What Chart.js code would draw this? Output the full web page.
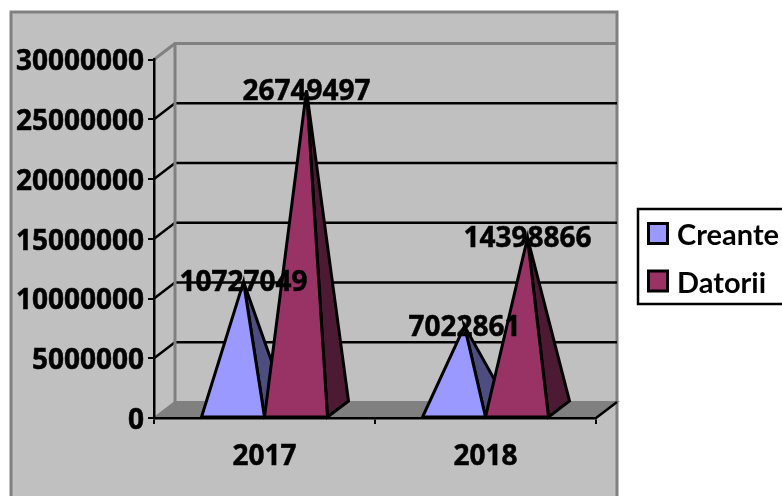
<!DOCTYPE html>
<html>
<head>
<meta charset="utf-8">
<script src="https://cdn.jsdelivr.net/npm/chart.js@4/dist/chart.umd.js"></script>
<style>
    html, body { margin: 0; padding: 0; background: #fff; overflow: hidden; }
    canvas { display: block; }
</style>
</head>
<body>
<canvas id="myChart" width="782" height="496"></canvas>
<script>
const categories = ['2017', '2018'];
const creante = [10727049, 7022861];
const datorii = [26749497, 14398866];

const numberFont = { family: '"Open Sans", sans-serif', weight: 'bold', size: 28 };
const legendFont = { family: 'Lato, sans-serif', weight: 'bold', size: 29 };
const legendPadding = 18.5;
const textStroke = 0.5;
const depthX = 21;
const depthY = 16;

/**
 * 多角形を塗りつぶして黒線で囲みます。
 */
const drawFace = (ctx, points, fill) => {
    ctx.beginPath();
    points.forEach((p, i) => (i === 0 ? ctx.moveTo(p[0], p[1]) : ctx.lineTo(p[0], p[1])));
    ctx.closePath();
    ctx.fillStyle = fill;
    ctx.fill();
    ctx.stroke();
};

const drawLine = (ctx, points, color, width) => {
    ctx.beginPath();
    points.forEach((p, i) => (i === 0 ? ctx.moveTo(p[0], p[1]) : ctx.lineTo(p[0], p[1])));
    ctx.strokeStyle = color;
    ctx.lineWidth = width;
    ctx.stroke();
};

// 背景、奥の壁、床、凡例の枠
const backdropPlugin = {
    id: 'backdrop',
    afterLayout(chart) {
        const legend = chart.legend;
        legend.left = 630;
        legend.right = 782;
        legend.top = 203;
        legend.bottom = 400;
    },
    beforeDraw(chart) {
        const ctx = chart.ctx;
        const area = chart.chartArea;
        const yScale = chart.scales.y;
        const wallRight = area.right + depthX;

        ctx.save();
        ctx.fillStyle = '#c0c0c0';
        ctx.fillRect(11, 12, wallRight - 11, 490);
        ctx.strokeStyle = '#808080';
        ctx.lineWidth = 3;
        ctx.strokeRect(11, 12, wallRight - 11, 490);

        const zeroY = yScale.getPixelForValue(0);
        ctx.lineWidth = 2;
        ctx.strokeStyle = '#808080';
        drawFace(ctx, [
            [area.left, zeroY],
            [area.left + depthX, zeroY - depthY],
            [wallRight, zeroY - depthY],
            [area.right, zeroY],
        ], '#808080');
        drawLine(ctx, [[area.right, zeroY], [wallRight, zeroY - depthY]], '#000', 2.5);

        yScale.ticks.forEach((tick) => {
            if (tick.value === 0) {
                return;
            }
            const y = yScale.getPixelForValue(tick.value);
            const color = tick.value === yScale.max ? '#808080' : '#000';
            const width = tick.value === yScale.max ? 3 : 2.5;
            drawLine(ctx, [[area.left, y], [area.left + depthX, y - depthY], [wallRight, y - depthY]], color, width);
        });
        drawLine(ctx, [
            [area.left + depthX, zeroY - depthY],
            [area.left + depthX, yScale.getPixelForValue(yScale.max) - depthY],
        ], '#808080', 3);

        ctx.fillStyle = '#fff';
        ctx.fillRect(638, 209, 150, 95);
        ctx.strokeStyle = '#000';
        ctx.lineWidth = 2.5;
        ctx.strokeRect(638, 209, 150, 95);
        ctx.restore();
    },
    // 棒の代わりに四角錐を描くので、既定の棒は描きません
    beforeDatasetDraw() {
        return false;
    },
    afterDatasetsDraw(chart) {
        const ctx = chart.ctx;
        const metas = chart.getSortedVisibleDatasetMetas();

        ctx.save();
        ctx.strokeStyle = '#000';
        ctx.lineWidth = 3;
        ctx.lineJoin = 'miter';
        metas.forEach((meta) => {
            const dataset = chart.data.datasets[meta.index];
            meta.data.forEach((bar) => {
                const left = bar.x - bar.width / 2;
                const right = bar.x + bar.width / 2;
                const apex = [bar.x + depthX / 2, bar.y - depthY / 2];
                drawFace(ctx, [[right, bar.base], [right + depthX, bar.base - depthY], apex], dataset.sideColor);
                drawFace(ctx, [[left, bar.base], [right, bar.base], apex], dataset.backgroundColor);
            });
        });

        // 凡例の色見本は参照画像に合わせて幅を広げます
        const legend = chart.legend;
        legend.legendItems.forEach((item, i) => {
            const x = legend.left + legendPadding;
            const y = 223.5 + i * (legendFont.size + legendPadding);
            ctx.fillStyle = item.fillStyle;
            ctx.fillRect(x, y, 19, 20);
            ctx.strokeRect(x, y, 19, 20);
        });

        ctx.fillStyle = '#000';
        ctx.lineWidth = textStroke;
        ctx.font = `${numberFont.weight} ${numberFont.size}px ${numberFont.family}`;
        ctx.textAlign = 'center';
        ctx.textBaseline = 'middle';
        metas.forEach((meta) => {
            const values = chart.data.datasets[meta.index].data;
            meta.data.forEach((bar, i) => {
                const x = bar.x + depthX / 2;
                const y = bar.y - depthY / 2 + 1.5;
                ctx.fillText(String(values[i]), x, y);
                ctx.strokeText(String(values[i]), x, y);
            });
        });
        ctx.restore();
    },
};

const createChart = () => {
    const config = {
        type: 'bar',
        data: {
            labels: categories,
            datasets: [
                { label: 'Creante', data: creante, backgroundColor: '#9999ff', sideColor: '#4d4d80', borderColor: '#000', borderWidth: 2.5 },
                { label: 'Datorii', data: datorii, backgroundColor: '#993366', sideColor: '#4d1a33', borderColor: '#000', borderWidth: 2.5 },
            ],
        },
        options: {
            responsive: false,
            animation: false,
            categoryPercentage: 0.57,
            barPercentage: 1,
            layout: { padding: { left: 0, top: 59.5, right: 186, bottom: 0 } },
            plugins: {
                tooltip: { enabled: false },
                legend: {
                    position: 'chartArea',
                    align: 'start',
                    labels: {
                        color: '#000',
                        boxWidth: 14,
                        boxHeight: 12,
                        padding: legendPadding,
                        font: legendFont,
                    },
                },
            },
            scales: {
                x: {
                    afterFit: (scale) => { scale.height = 78; },
                    border: { color: '#000', width: 2.5 },
                    grid: { drawOnChartArea: false, color: '#000', lineWidth: 2, tickLength: 6 },
                    ticks: { color: '#000', padding: 16, maxRotation: 0, font: numberFont, textStrokeColor: '#000', textStrokeWidth: textStroke },
                },
                y: {
                    min: 0,
                    max: 30000000,
                    afterFit: (scale) => { scale.width = 154; },
                    border: { color: '#000', width: 2.5 },
                    grid: { drawOnChartArea: false, color: '#000', lineWidth: 2, tickLength: 6 },
                    ticks: { color: '#000', stepSize: 5000000, padding: 4, labelOffset: 3, callback: (value) => String(value), font: numberFont, textStrokeColor: '#000', textStrokeWidth: textStroke },
                },
            },
        },
        plugins: [backdropPlugin],
    };

    return new Chart(document.getElementById('myChart'), config);
};

createChart();
</script>
</body>
</html>
